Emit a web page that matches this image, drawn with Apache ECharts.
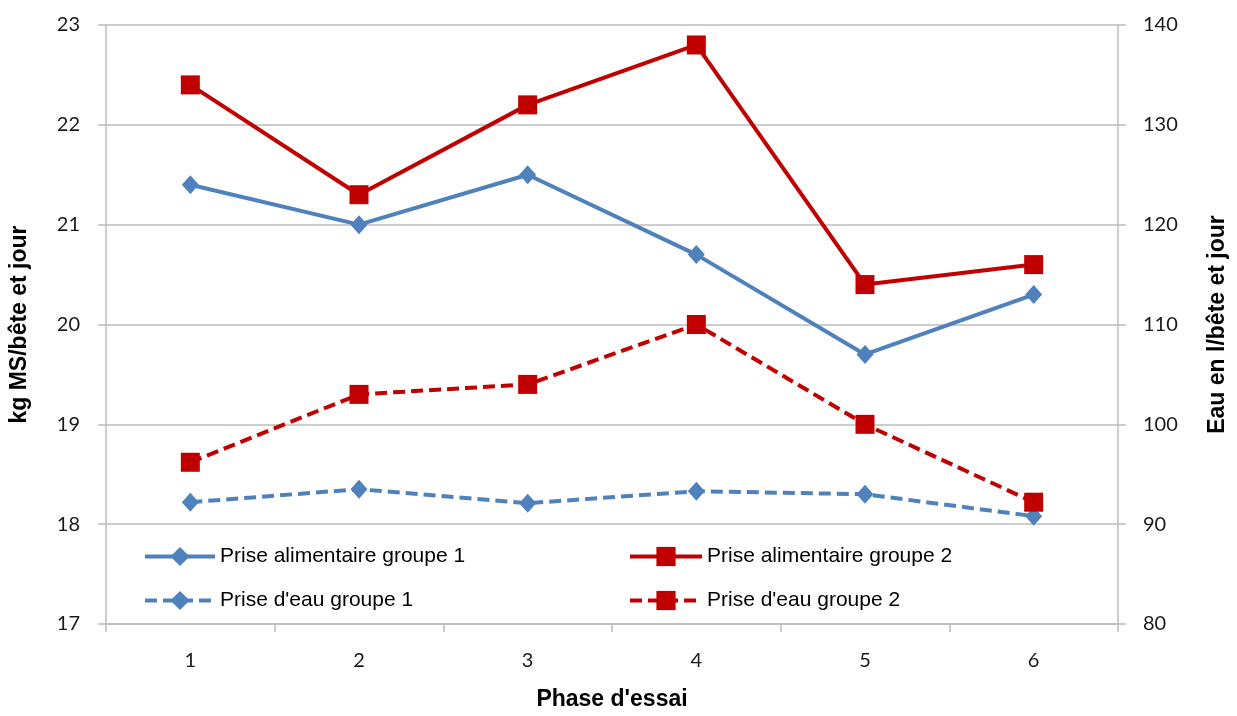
<!DOCTYPE html>
<html><head><meta charset="utf-8">
<script src="https://cdn.jsdelivr.net/npm/echarts@6/dist/echarts.min.js"></script>
<style>html,body{margin:0;padding:0;background:#fff}#c{width:1237px;height:716px}</style>
</head><body><div id="c"></div>
<script>
const categories = ['1','2','3','4','5','6'];
const alimG1 = [21.4, 21.0, 21.5, 20.7, 19.7, 20.3];
const alimG2 = [22.4, 21.3, 22.2, 22.8, 20.4, 20.6];
const eauG1 = [92.2, 93.5, 92.1, 93.3, 93.0, 90.8];
const eauG2 = [96.2, 103, 104, 110, 100, 92.2];
const leftTicks = {min: 17, max: 23, interval: 1};
const rightTicks = {min: 80, max: 140, interval: 10};

const BLUE = '#4F81BD', RED = '#C00000', GRIDC = '#bcbcbc';
const tickFont = {fontFamily: 'Lato', fontSize: 20, color: '#1a1a1a'};
const titleFont = {fontFamily: 'Liberation Sans', fontSize: 23, fontWeight: 'bold', color: '#000'};
const legText = {fontFamily: 'Liberation Sans', fontSize: 21, color: '#000'};

const chart = echarts.init(document.getElementById('c'), null, {renderer: 'canvas'});
chart.setOption({
  animation: false,
  backgroundColor: '#fff',
  grid: {left: 106, right: 112, top: 25, bottom: 86, containLabel: false},
  legend: [
    {data: ['Prise alimentaire groupe 1', "Prise d'eau groupe 1"], orient: 'vertical', left: 143, top: 546, padding: 0,
     itemWidth: 70, itemHeight: 24, itemGap: 23, textStyle: legText, lineStyle: {width: 4}},
    {data: ['Prise alimentaire groupe 2', "Prise d'eau groupe 2"], orient: 'vertical', left: 628, top: 546, padding: 0,
     itemWidth: 72, itemHeight: 24, itemGap: 23, textStyle: legText, lineStyle: {width: 4}}
  ],
  xAxis: {
    type: 'category', data: categories, boundaryGap: true,
    name: "Phase d'essai", nameLocation: 'middle', nameGap: 64, nameTextStyle: titleFont,
    axisLine: {lineStyle: {color: GRIDC, width: 1.5}},
    axisTick: {show: true, length: 8, lineStyle: {color: GRIDC, width: 1.5}},
    axisLabel: Object.assign({margin: 27}, tickFont)
  },
  yAxis: [
    {type: 'value', min: leftTicks.min, max: leftTicks.max, interval: leftTicks.interval, position: 'left',
     name: 'kg MS/bête et jour', nameLocation: 'middle', nameGap: 75, nameRotate: 90, nameTextStyle: titleFont,
     axisLine: {show: true, lineStyle: {color: GRIDC, width: 1.5}},
     axisTick: {show: true, length: 8, lineStyle: {color: GRIDC, width: 1.5}},
     splitLine: {show: true, lineStyle: {color: GRIDC, width: 1.5}},
     axisLabel: Object.assign({margin: 26}, tickFont)},
    {type: 'value', min: rightTicks.min, max: rightTicks.max, interval: rightTicks.interval, position: 'right',
     name: 'Eau en l/bête et jour', nameLocation: 'middle', nameGap: 88, nameRotate: 90, nameTextStyle: titleFont,
     axisLine: {show: true, lineStyle: {color: GRIDC, width: 1.5}},
     axisTick: {show: true, length: 8, lineStyle: {color: GRIDC, width: 1.5}},
     splitLine: {show: false},
     axisLabel: Object.assign({margin: 25}, tickFont)}
  ],
  series: [
    {name: 'Prise alimentaire groupe 1', type: 'line', yAxisIndex: 0, data: alimG1,
     symbol: 'diamond', symbolSize: [17, 19], lineStyle: {color: BLUE, width: 4}, itemStyle: {color: BLUE}},
    {name: 'Prise alimentaire groupe 2', type: 'line', yAxisIndex: 0, data: alimG2,
     symbol: 'rect', symbolSize: 19, lineStyle: {color: RED, width: 4}, itemStyle: {color: RED}},
    {name: "Prise d'eau groupe 1", type: 'line', yAxisIndex: 1, data: eauG1,
     symbol: 'diamond', symbolSize: [17, 19], lineStyle: {color: BLUE, width: 4, type: [12, 6]}, itemStyle: {color: BLUE}},
    {name: "Prise d'eau groupe 2", type: 'line', yAxisIndex: 1, data: eauG2,
     symbol: 'rect', symbolSize: 19, lineStyle: {color: RED, width: 4, type: [12, 6]}, itemStyle: {color: RED}}
  ]
});
</script></body></html>
